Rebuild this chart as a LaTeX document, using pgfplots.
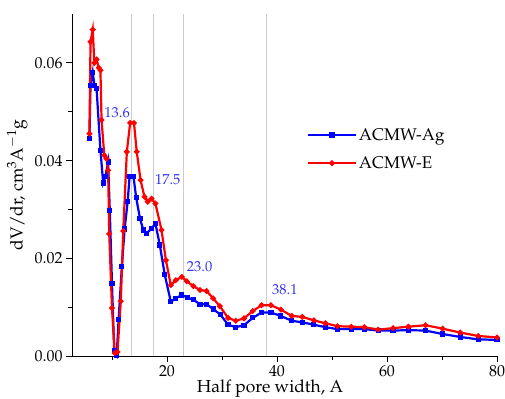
\documentclass[border=0pt]{standalone}
\usepackage[T1]{fontenc}
\usepackage{mathpazo}
\usepackage{pgfplots}
\pgfplotsset{compat=1.18}
\definecolor{annblue}{RGB}{50,50,245}
\begin{document}
\begin{tikzpicture}[x=1bp,y=1bp]
\begin{axis}[
  scale only axis,
  width=425bp, height=342bp,
  xmin=2.73, xmax=80, ymin=0, ymax=0.07,
  axis lines=left,
  axis line style={-, line width=0.8bp},
  clip=false,
  xtick={20,40,60,80},
  minor xtick={10,30,50,70},
  ytick={0,0.02,0.04,0.06},
  minor ytick={0.01,0.03,0.05},
  tick align=outside,
  major tick length=6bp, minor tick length=4bp,
  tick style={black, line width=0.8bp},
  yticklabel style={/pgf/number format/.cd, fixed, fixed zerofill, precision=2},
  scaled y ticks=false,
  ticklabel style={font=\fontsize{16}{19}\selectfont},
  xlabel={Half pore width, A},
  ylabel={dV/dr, cm$^{3}$A$^{-1}$g},
  label style={font=\fontsize{17.5}{20}\selectfont},
  xlabel style={at={(axis description cs:0.466,-0.107)}, anchor=base},
  ylabel style={at={(axis description cs:-0.129,0.5)}, anchor=center},
  legend style={draw=none, fill=none, at={(axis description cs:0.552,0.672)}, anchor=north west,
    font=\fontsize{17}{20}\selectfont, row sep=11bp, inner sep=0pt},
  legend cell align=left,
  legend image code/.code={\draw[mark repeat=2,mark phase=2,#1] plot coordinates {(0bp,0bp) (24bp,0bp) (48bp,0bp)};},
]
\addplot[gray!40, line width=0.8bp, forget plot] coordinates {(13.6,0) (13.6,0.07)};
\addplot[gray!40, line width=0.8bp, forget plot] coordinates {(17.5,0) (17.5,0.07)};
\addplot[gray!40, line width=0.8bp, forget plot] coordinates {(23.0,0) (23.0,0.07)};
\addplot[gray!40, line width=0.8bp, forget plot] coordinates {(38.1,0) (38.1,0.07)};

\addplot[blue, line width=2.2bp, mark=square*, mark size=1.5bp, mark options={solid}] coordinates {
(5.9,0.0445) (6.1,0.0554) (6.5,0.0581) (6.8,0.0554) (7.2,0.0547) (7.9,0.0421)
(8.4,0.0354) (8.8,0.0367) (9.3,0.0397) (9.6,0.0298) (10.0,0.0149) (10.4,0.0012)
(10.85,0.0002) (11.2,0.0074) (11.8,0.0184) (12.3,0.0260) (12.85,0.0316) (13.2,0.0367)
(13.9,0.0368) (14.4,0.0324) (15.1,0.0281) (15.7,0.0258) (16.3,0.0251) (17.2,0.0261)
(17.9,0.0271) (18.7,0.0227) (19.6,0.0166) (20.7,0.0111) (21.6,0.0118) (22.7,0.0125)
(23.7,0.0120) (24.8,0.0115) (26.0,0.0106) (27.2,0.0106) (28.4,0.0096) (29.7,0.0085)
(31.1,0.0064) (32.5,0.0059) (34.0,0.0063) (35.6,0.0078) (37.2,0.0089) (38.9,0.0089)
(40.7,0.0082) (42.7,0.0072) (44.6,0.0069) (46.7,0.0064) (48.8,0.0059) (51.0,0.0055)
(53.5,0.0055) (55.9,0.0055) (58.4,0.0052) (61.1,0.0052) (63.9,0.0053) (67.0,0.0052)
(70.1,0.0045) (73.3,0.0039) (76.6,0.0034) (80.0,0.0033)
};
\addlegendentry{ACMW-Ag}
\addplot[red, line width=2.2bp, mark=*, mark size=1.6bp, mark options={solid}] coordinates {
(5.9,0.0455) (6.1,0.0643) (6.5,0.0668) (6.8,0.0600) (7.2,0.0607) (7.6,0.0590)
(7.9,0.0585) (8.1,0.0483) (8.6,0.0411) (9.0,0.0404) (9.3,0.0380) (9.5,0.0250)
(10.0,0.0098) (10.5,0.0006) (11.0,0.0008) (11.6,0.0112) (12.05,0.0256) (12.7,0.0418)
(13.3,0.0477) (14.0,0.0477) (14.5,0.0418) (15.2,0.0360) (15.9,0.0326) (16.5,0.0316)
(17.2,0.0322) (17.9,0.0312) (19.0,0.0258) (19.8,0.0196) (20.7,0.0145) (21.6,0.0155)
(22.7,0.0162) (23.6,0.0153) (24.8,0.0143) (26.0,0.0135) (27.2,0.0133) (28.4,0.0118)
(29.6,0.0102) (31.1,0.0078) (32.5,0.0072) (34.0,0.0077) (35.6,0.0092) (37.2,0.0104)
(38.9,0.0104) (40.7,0.0095) (42.7,0.0082) (44.6,0.0080) (46.7,0.0073) (48.8,0.0067)
(51.0,0.0061) (53.5,0.0060) (55.9,0.0059) (58.4,0.0054) (61.1,0.0057) (63.9,0.0060)
(67.0,0.0063) (70.1,0.0056) (73.3,0.0048) (76.6,0.0041) (80.0,0.0038)
};
\addlegendentry{ACMW-E}

\node[annblue, anchor=west, inner sep=0pt, font=\fontsize{14.5}{17}\selectfont] at (axis cs:8.6,0.0499) {13.6};
\node[annblue, anchor=west, inner sep=0pt, font=\fontsize{14.5}{17}\selectfont] at (axis cs:17.8,0.0360) {17.5};
\node[annblue, anchor=west, inner sep=0pt, font=\fontsize{14.5}{17}\selectfont] at (axis cs:23.6,0.0182) {23.0};
\node[annblue, anchor=west, inner sep=0pt, font=\fontsize{14.5}{17}\selectfont] at (axis cs:39.1,0.0135) {38.1};
\end{axis}
\pgfresetboundingbox
\path (current axis.south west) ++(-72bp,-43bp) rectangle ++(505bp,399bp);
\end{tikzpicture}
\end{document}
